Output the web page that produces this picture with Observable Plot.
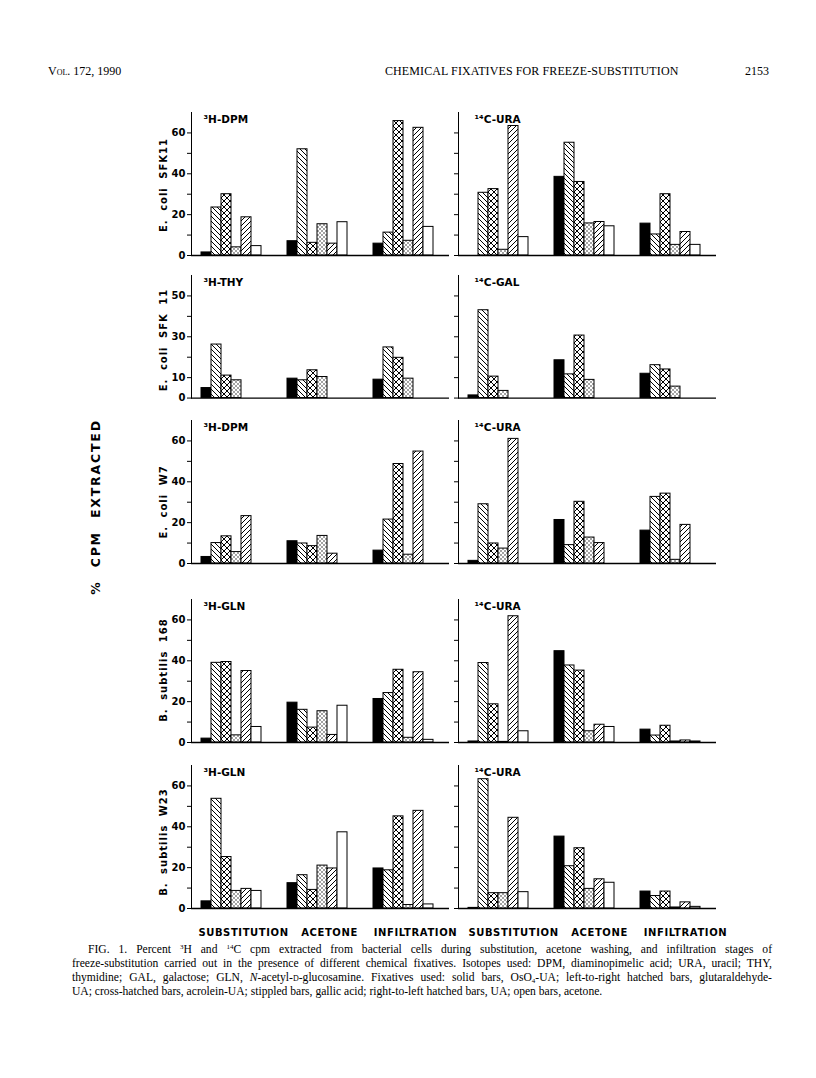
<!DOCTYPE html>
<html><head><meta charset="utf-8">
<script src="https://cdn.jsdelivr.net/npm/d3@7"></script>
<script src="https://cdn.jsdelivr.net/npm/@observablehq/plot@0.6"></script>
<style>
body{margin:0;background:#fff;}
#page{position:relative;width:816px;height:1078px;overflow:hidden;font-family:"DejaVu Sans",sans-serif;color:#000;background:#fff}
.abs{position:absolute;white-space:nowrap}
.hdr{font-family:"Liberation Serif",serif;font-size:12px}
.rot{position:absolute;transform:translate(-50%,-50%) rotate(-90deg);white-space:nowrap;font-weight:bold}
.cap{position:absolute;left:72px;width:700px;height:14px;font-family:"Liberation Serif",serif;font-size:11.6px;line-height:14px;text-align:justify;text-align-last:justify;white-space:nowrap}
.sp{font-size:7px;position:relative;top:-4px;line-height:0}
.sb{font-size:7px;position:relative;top:2px;line-height:0}
.panel{position:absolute}
.panel svg{overflow:visible}
</style>
</head><body>
<svg width="0" height="0" style="position:absolute">
<defs>
<pattern id="pLtr" patternUnits="userSpaceOnUse" width="5" height="5">
<rect width="5" height="5" fill="white"/>
<path d="M-1,-1L6,6M-1,4L1,6M4,-1L6,1" stroke="black" stroke-width="1"/>
</pattern>
<pattern id="pRtl" patternUnits="userSpaceOnUse" width="5" height="5">
<rect width="5" height="5" fill="white"/>
<path d="M-1,6L6,-1M-1,1L1,-1M4,6L6,4" stroke="black" stroke-width="1"/>
</pattern>
<pattern id="pCross" patternUnits="userSpaceOnUse" width="6" height="6">
<rect width="6" height="6" fill="white"/>
<path d="M-1,-1L7,7M-1,5L1,7M5,-1L7,1M-1,7L7,-1M-1,1L1,-1M5,7L7,5" stroke="black" stroke-width="1"/>
</pattern>
<pattern id="pDots" patternUnits="userSpaceOnUse" width="4" height="4">
<rect width="4" height="4" fill="white"/>
<circle cx="1" cy="1" r="0.7" fill="black"/>
<circle cx="3" cy="3" r="0.7" fill="black"/>
</pattern>
</defs>
</svg>
<div id="page">
<div class="abs hdr" style="left:48px;top:64px">V<span style="font-variant:small-caps">ol</span>. 172, 1990</div>
<div class="abs hdr" style="left:385px;top:64px;letter-spacing:0.1px">CHEMICAL FIXATIVES FOR FREEZE-SUBSTITUTION</div>
<div class="abs hdr" style="left:745px;top:64px">2153</div>
<div class="rot" style="left:95px;top:507px;font-size:12.5px;letter-spacing:1.8px;word-spacing:7px">% CPM EXTRACTED</div>
<div id="species"></div>
<div id="panels"></div>
<div class="cap" style="top:943px;left:88px;width:684px">FIG. 1. Percent <span class="sp">3</span>H and <span class="sp">14</span>C cpm extracted from bacterial cells during substitution, acetone washing, and infiltration stages of</div>
<div class="cap" style="top:957px">freeze-substitution carried out in the presence of different chemical fixatives. Isotopes used: DPM, diaminopimelic acid; URA, uracil; THY,</div>
<div class="cap" style="top:971px">thymidine; GAL, galactose; GLN, <i>N</i>-acetyl-<span style="font-variant:small-caps">d</span>-glucosamine. Fixatives used: solid bars, OsO<span class="sb">4</span>-UA; left-to-right hatched bars, glutaraldehyde-</div>
<div class="cap" style="top:985px;text-align-last:left">UA; cross-hatched bars, acrolein-UA; stippled bars, gallic acid; right-to-left hatched bars, UA; open bars, acetone.</div>
</div>
<script>
// ---- data ----
const stages = ["SUBSTITUTION", "ACETONE", "INFILTRATION"];
const fixatives = ["OsO4-UA", "glutaraldehyde-UA", "acrolein-UA", "gallic acid", "UA", "acetone"];
const species = ["E. coli SFK11", "E. coli SFK 11", "E. coli W7", "B. subtilis 168", "B. subtilis W23"];
const leftIsotopes = ["³H-DPM", "³H-THY", "³H-DPM", "³H-GLN", "³H-GLN"];
const rightIsotopes = ["¹⁴C-URA", "¹⁴C-GAL", "¹⁴C-URA", "¹⁴C-URA", "¹⁴C-URA"];
const yMaxes = [70, 60, 70, 70, 70];
const yTicks = [
  [0, 10, 20, 30, 40, 50, 60],
  [0, 10, 20, 30, 40, 50],
  [0, 10, 20, 30, 40, 50, 60],
  [0, 10, 20, 30, 40, 50, 60],
  [0, 10, 20, 30, 40, 50, 60]
];
const yTickLabels = [
  [0, 20, 40, 60],
  [0, 10, 30, 50],
  [0, 20, 40, 60],
  [0, 20, 40, 60],
  [0, 20, 40, 60]
];
// values per stage (substitution, acetone, infiltration), each in fixative order; null = no bar
const sfk11_DPM = [[1.5, 23.5, 30, 4, 18.7, 4.6], [7, 52, 6.2, 15.3, 5.8, 16.3], [5.8, 11.2, 65.8, 7.2, 62.5, 14]];
const sfk11_URA = [[0, 30.7, 32.5, 2.8, 63.4, 9], [38.5, 55.2, 36, 15.7, 16.4, 14.3], [15.6, 10.3, 30, 5.2, 11.5, 5.2]];
const sfk11_THY = [[4.9, 26.2, 11, 8.7, null, null], [9.5, 8.7, 13.6, 10.3, null, null], [9, 24.8, 19.7, 9.5, null, null]];
const sfk11_GAL = [[1.3, 43, 10.5, 3.5, null, null], [18.5, 11.6, 30.6, 8.9, null, null], [11.9, 16.1, 14, 5.6, null, null]];
const w7_DPM = [[3.2, 10, 13.3, 5.6, 23.2, null], [10.9, 9.8, 8.5, 13.5, 4.8, null], [6.3, 21.5, 48.7, 4.3, 54.8, null]];
const w7_URA = [[1.3, 29, 9.8, 7.3, 61, null], [21.3, 9, 30.2, 12.7, 10, null], [16.1, 32.6, 34.2, 1.8, 18.9, null]];
const bs168_GLN = [[1.9, 39, 39.4, 3.5, 35, 7.6], [19.5, 16, 7.3, 15.3, 3.7, 18], [21.3, 24.2, 35.6, 2.3, 34.4, 1.3]];
const bs168_URA = [[0.5, 38.9, 18.7, 0.3, 61.8, 5.5], [44.7, 37.7, 35.2, 5.5, 8.7, 7.6], [6.3, 3.4, 8.2, 0.5, 1, 0.5]];
const w23_GLN = [[3.5, 53.7, 25.2, 8.6, 9.6, 8.6], [12.4, 16.3, 9.1, 21, 19.6, 37.3], [19.6, 18.7, 45.1, 1.7, 47.8, 2]];
const w23_URA = [[0.3, 63.3, 7.5, 7.5, 44.4, 8], [35.2, 20.7, 29.5, 9.6, 14.3, 12.6], [8.3, 6.1, 8.3, 0.5, 3, 0.8]];
const leftValues = [sfk11_DPM, sfk11_THY, w7_DPM, bs168_GLN, w23_GLN];
const rightValues = [sfk11_URA, sfk11_GAL, w7_URA, bs168_URA, w23_URA];

// ---- layout / style ----
const fills = ["black", "url(#pLtr)", "url(#pCross)", "url(#pDots)", "url(#pRtl)", "white"];
const baselines = [255, 398, 563, 742, 908];
const speciesCenters = [185, 340, 502, 670, 842];
const pxPerUnit = 143 / 70;
const frameW = 260;
const mTop = 16;

function makePanel(values, title, row, isLeft, isBottom) {
  const data = [];
  stages.forEach((s, i) => values[i].forEach((v, j) => {
    if (v != null) data.push({stage: s, fixative: fixatives[j], value: v});
  }));
  const yMax = yMaxes[row];
  const frameH = yMax * pxPerUnit;
  const mLeft = isLeft ? 30 : 12;
  const mBottom = isBottom ? 40 : 8;
  const labels = yTickLabels[row];
  const marks = [];
  fixatives.forEach((f, j) => {
    marks.push(Plot.barY(data.filter(d => d.fixative === f), {
      fx: "stage", x: "fixative", y: "value", fill: fills[j], stroke: "black", strokeWidth: 1
    }));
  });
  marks.push(Plot.ruleY([0], {stroke: "black", strokeWidth: 1.3}));
  marks.push(Plot.text([title], {
    fx: () => stages[0], text: d => d, frameAnchor: "top-left", textAnchor: "start",
    dx: isLeft ? 12 : 16, dy: 3, fontSize: 10.5, fontWeight: "bold"
  }));
  if (isBottom) {
    marks.push(Plot.text(stages, {
      fx: d => d, text: d => d, frameAnchor: "bottom", dy: 27, dx: isLeft ? 9 : 12,
      fontSize: 10, fontWeight: "bold"
    }));
  }
  const svg = Plot.plot({
    width: mLeft + frameW,
    height: mTop + frameH + mBottom,
    marginLeft: mLeft, marginRight: 0, marginTop: mTop, marginBottom: mBottom,
    style: {fontFamily: "DejaVu Sans", fontSize: "10px", fontWeight: "bold", background: "transparent", color: "black", overflow: "visible"},
    fx: {domain: stages, padding: 0, axis: null},
    x: {domain: fixatives, paddingInner: 0, paddingOuter: 0.94, align: 0.4, axis: null},
    y: {
      domain: [0, yMax], ticks: yTicks[row], tickSize: 4, tickPadding: 2, line: true, label: null,
      tickFormat: d => (isLeft && labels.includes(d)) ? String(d) : ""
    },
    marks
  });
  if (isBottom) {
    svg.querySelectorAll("text").forEach(t => {
      if (stages.includes(t.textContent)) t.setAttribute("letter-spacing", "0.6");
    });
  }
  const div = document.createElement("div");
  div.className = "panel";
  div.style.left = ((isLeft ? 190 : 457) - mLeft) + "px";
  div.style.top = (baselines[row] - frameH - mTop) + "px";
  div.appendChild(svg);
  document.getElementById("panels").appendChild(div);
}

for (let r = 0; r < 5; r++) {
  makePanel(leftValues[r], leftIsotopes[r], r, true, r === 4);
  makePanel(rightValues[r], rightIsotopes[r], r, false, r === 4);
  const s = document.createElement("div");
  s.className = "rot";
  s.style.left = "163px";
  s.style.top = speciesCenters[r] + "px";
  s.style.fontSize = "10px";
  s.style.letterSpacing = "1px";
  s.style.wordSpacing = "4px";
  s.textContent = species[r];
  document.getElementById("species").appendChild(s);
}
</script>
</body></html>
